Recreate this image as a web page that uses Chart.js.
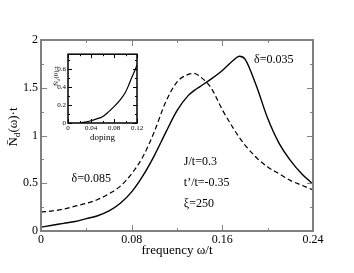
<!DOCTYPE html>
<html>
<head>
<meta charset="utf-8">
<script src="https://cdn.jsdelivr.net/npm/chart.js@4.4.1/dist/chart.umd.min.js"></script>
<style>
  html, body { margin: 0; padding: 0; background: #ffffff; }
  #wrap { position: relative; width: 354px; height: 273px; }
  #main { position: absolute; left: 0; top: 0; }
  #inset { position: absolute; left: 48px; top: 48px; }
</style>
</head>
<body>
<div id="wrap">
  <canvas id="main" width="354" height="273"></canvas>
  <canvas id="inset" width="100" height="96"></canvas>
</div>
<script>
// ---------------- data ----------------
const frequency = [0, 0.01, 0.02, 0.03, 0.04, 0.05, 0.06, 0.07, 0.08, 0.09, 0.10, 0.11, 0.12, 0.13, 0.135, 0.14, 0.15, 0.16, 0.17, 0.175, 0.18, 0.19, 0.20, 0.21, 0.22, 0.23, 0.24];
const nd_delta0035 = [0.04, 0.06, 0.08, 0.10, 0.13, 0.16, 0.21, 0.29, 0.41, 0.58, 0.79, 1.03, 1.26, 1.42, 1.47, 1.51, 1.59, 1.68, 1.79, 1.83, 1.80, 1.52, 1.18, 0.92, 0.74, 0.60, 0.49];
const nd_delta0085 = [0.20, 0.21, 0.23, 0.26, 0.29, 0.33, 0.39, 0.47, 0.60, 0.78, 1.04, 1.35, 1.56, 1.64, 1.65, 1.62, 1.50, 1.27, 1.07, 0.98, 0.90, 0.77, 0.67, 0.60, 0.53, 0.48, 0.43];
const seriesNames = ['δ=0.035', 'δ=0.085'];

const doping = [0.02, 0.03, 0.04, 0.05, 0.06, 0.07, 0.08, 0.09, 0.10, 0.105, 0.11, 0.115, 0.12];
const nd0 = [0.0, 0.01, 0.025, 0.045, 0.07, 0.12, 0.18, 0.25, 0.34, 0.41, 0.49, 0.56, 0.64];

const xTickValues = [0, 0.08, 0.16, 0.24];
const xTickLabels = ['0', '0.08', '0.16', '0.24'];
const yTickValues = [0, 0.5, 1, 1.5, 2];
const yTickLabels = ['0', '0.5', '1', '1.5', '2'];
const xMinorValues = [0.04, 0.12, 0.20];
const yMinorValues = [0.25, 0.75, 1.25, 1.75];

const insetXTickValues = [0, 0.04, 0.08, 0.12];
const insetXTickLabels = ['0', '0.04', '0.08', '0.12'];
const insetYTickValues = [0, 0.2, 0.4, 0.6];
const insetYTickLabels = ['0', '0.2', '0.4', '0.6'];
const insetXMinorValues = [0.02, 0.06, 0.10];
const insetYMinorValues = [0.1, 0.3, 0.5, 0.7];

const paramTexts = ['J/t=0.3', 't\u2019/t=-0.35', '\u03BE=250'];

// ---------------- helpers ----------------
const SERIF = '"Liberation Serif", "Times New Roman", serif';

function frameTicksPlugin(id, cfg) {
  return {
    id: id,
    afterDraw(chart) {
      const ctx = chart.ctx, a = chart.chartArea;
      const xs = chart.scales.x, ys = chart.scales.y;
      ctx.save();
      ctx.strokeStyle = cfg.color;
      ctx.lineWidth = cfg.tickWidth;
      ctx.beginPath();
      const vx = (v, len) => {
        const px = Math.round(xs.getPixelForValue(v)) + 0.5;
        ctx.moveTo(px, a.bottom); ctx.lineTo(px, a.bottom - len);
        ctx.moveTo(px, a.top); ctx.lineTo(px, a.top + len);
      };
      const vy = (v, len) => {
        const py = Math.round(ys.getPixelForValue(v)) + 0.5;
        ctx.moveTo(a.left, py); ctx.lineTo(a.left + len, py);
        ctx.moveTo(a.right, py); ctx.lineTo(a.right - len, py);
      };
      cfg.xMajor.forEach(v => vx(v, cfg.major));
      cfg.xMinor.forEach(v => vx(v, cfg.minor));
      cfg.yMajor.forEach(v => vy(v, cfg.major));
      cfg.yMinor.forEach(v => vy(v, cfg.minor));
      ctx.stroke();
      ctx.lineWidth = cfg.frameWidth;
      ctx.strokeRect(a.left, a.top, a.right - a.left, a.bottom - a.top);
      ctx.restore();
    }
  };
}

function drawRotatedTitle(ctx, x, y, size, parts) {
  ctx.save();
  ctx.translate(x, y);
  ctx.rotate(-Math.PI / 2);
  ctx.fillStyle = '#000';
  ctx.textBaseline = 'alphabetic';
  ctx.textAlign = 'left';
  let total = 0;
  parts.forEach(p => { ctx.font = (p.sub ? size * 0.7 : size) + 'px ' + SERIF; p.w = ctx.measureText(p.t).width; total += p.w; });
  let cx = -total / 2;
  parts.forEach(p => {
    ctx.font = (p.sub ? size * 0.7 : size) + 'px ' + SERIF;
    ctx.fillText(p.t, cx, p.sub ? size * 0.25 : 0);
    cx += p.w;
  });
  ctx.restore();
}

// ---------------- main chart ----------------
const mainTitlePlugin = {
  id: 'mainTitles',
  afterDraw(chart) {
    const ctx = chart.ctx;
    const xs = chart.scales.x, ys = chart.scales.y;
    drawRotatedTitle(ctx, 17, 127, 13, [{t: 'N\u0304'}, {t: 'd', sub: true}, {t: '(\u03C9)\u00B7t'}]);
    ctx.save();
    ctx.fillStyle = '#000';
    ctx.font = '12px ' + SERIF;
    ctx.textAlign = 'left';
    ctx.textBaseline = 'middle';
    ctx.fillText(seriesNames[0], xs.getPixelForValue(0.188), ys.getPixelForValue(1.79));
    ctx.fillText(seriesNames[1], xs.getPixelForValue(0.027), ys.getPixelForValue(0.545));
    ctx.fillText(paramTexts[0], xs.getPixelForValue(0.126), ys.getPixelForValue(0.72));
    ctx.fillText(paramTexts[1], xs.getPixelForValue(0.126), ys.getPixelForValue(0.50));
    ctx.fillText(paramTexts[2], xs.getPixelForValue(0.126), ys.getPixelForValue(0.28));
    ctx.restore();
  }
};

new Chart(document.getElementById('main'), {
  type: 'line',
  data: {
    datasets: [
      {
        label: seriesNames[0],
        data: frequency.map((f, i) => ({x: f, y: nd_delta0035[i]})),
        borderColor: '#000', borderWidth: 1.4, pointRadius: 0,
        cubicInterpolationMode: 'monotone', fill: false
      },
      {
        label: seriesNames[1],
        data: frequency.map((f, i) => ({x: f, y: nd_delta0085[i]})),
        borderColor: '#000', borderWidth: 1.2, borderDash: [5, 3], pointRadius: 0,
        cubicInterpolationMode: 'monotone', fill: false
      }
    ]
  },
  options: {
    responsive: false, animation: false, devicePixelRatio: 1,
    layout: { padding: { top: 40, right: 41, left: 0, bottom: 0 } },
    plugins: { legend: { display: false }, tooltip: { enabled: false } },
    scales: {
      x: {
        type: 'linear', min: 0, max: 0.24,
        grid: { display: false, drawTicks: false }, border: { display: false },
        afterBuildTicks: s => { s.ticks = xTickValues.map(v => ({value: v})); },
        afterFit: s => { s.height = 42; },
        ticks: {
          autoSkip: false, maxRotation: 0, padding: 2, color: '#000',
          font: { family: SERIF, size: 12 },
          callback: (v) => { const i = xTickValues.findIndex(t => Math.abs(t - v) < 1e-9); return i >= 0 ? xTickLabels[i] : ''; }
        },
        title: { display: true, text: 'frequency \u03C9/t', color: '#000', font: { family: SERIF, size: 13 }, padding: { top: 0, bottom: 15 } }
      },
      y: {
        type: 'linear', min: 0, max: 2,
        grid: { display: false, drawTicks: false }, border: { display: false },
        afterBuildTicks: s => { s.ticks = yTickValues.map(v => ({value: v})); },
        afterFit: s => { s.width = 41; },
        ticks: {
          autoSkip: false, padding: 3, color: '#000',
          font: { family: SERIF, size: 12 },
          callback: (v) => { const i = yTickValues.findIndex(t => Math.abs(t - v) < 1e-9); return i >= 0 ? yTickLabels[i] : ''; }
        }
      }
    }
  },
  plugins: [
    frameTicksPlugin('mainFrame', { color: '#808080', tickWidth: 1, frameWidth: 2, major: 6, minor: 3,
      xMajor: xTickValues, xMinor: xMinorValues, yMajor: yTickValues, yMinor: yMinorValues }),
    mainTitlePlugin
  ]
});

// ---------------- inset chart ----------------
const insetTitlePlugin = {
  id: 'insetTitles',
  afterDraw(chart) {
    drawRotatedTitle(chart.ctx, 10, 28, 7, [{t: 'N\u0304'}, {t: 'd', sub: true}, {t: '(0)\u00B7t'}]);
  }
};

new Chart(document.getElementById('inset'), {
  type: 'line',
  data: {
    datasets: [{
      label: 'N_d(0)',
      data: doping.map((d, i) => ({x: d, y: nd0[i]})),
      borderColor: '#000', borderWidth: 1.2, pointRadius: 0,
      cubicInterpolationMode: 'monotone', fill: false
    }]
  },
  options: {
    responsive: false, animation: false, devicePixelRatio: 1,
    layout: { padding: { top: 6, right: 11, left: 0, bottom: 0 } },
    plugins: { legend: { display: false }, tooltip: { enabled: false } },
    scales: {
      x: {
        type: 'linear', min: 0, max: 0.12,
        grid: { display: false, drawTicks: false }, border: { display: false },
        afterBuildTicks: s => { s.ticks = insetXTickValues.map(v => ({value: v})); },
        afterFit: s => { s.height = 21; },
        ticks: {
          autoSkip: false, maxRotation: 0, padding: 1, color: '#000',
          font: { family: SERIF, size: 7 },
          callback: (v) => { const i = insetXTickValues.findIndex(t => Math.abs(t - v) < 1e-9); return i >= 0 ? insetXTickLabels[i] : ''; }
        },
        title: { display: true, text: 'doping', color: '#000', font: { family: SERIF, size: 9 }, padding: { top: 0, bottom: 1 } }
      },
      y: {
        type: 'linear', min: 0, max: 0.76,
        grid: { display: false, drawTicks: false }, border: { display: false },
        afterBuildTicks: s => { s.ticks = insetYTickValues.map(v => ({value: v})); },
        afterFit: s => { s.width = 20; },
        ticks: {
          autoSkip: false, padding: 2, color: '#000',
          font: { family: SERIF, size: 7 },
          callback: (v) => { const i = insetYTickValues.findIndex(t => Math.abs(t - v) < 1e-9); return i >= 0 ? insetYTickLabels[i] : ''; }
        }
      }
    }
  },
  plugins: [
    frameTicksPlugin('insetFrame', { color: '#000', tickWidth: 1, frameWidth: 1.5, major: 4, minor: 2,
      xMajor: insetXTickValues, xMinor: insetXMinorValues, yMajor: insetYTickValues, yMinor: insetYMinorValues }),
    insetTitlePlugin
  ]
});
</script>
</body>
</html>
